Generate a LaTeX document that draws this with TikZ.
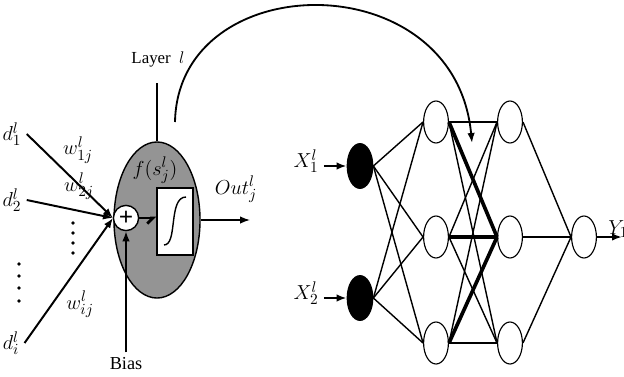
\documentclass[tikz,border=0pt]{standalone}
\usepackage{fontspec}
\setmainfont{Liberation Serif}
\usetikzlibrary{arrows.meta,shapes.geometric}

\begin{document}
\begin{tikzpicture}[x=0.025cm, y=-0.025cm, line width=1pt,
	every node/.style={font=\fontsize{15}{17}\selectfont}, >={Latex[length=2.5mm]},
	unit/.style={ellipse, draw, line width=0.8pt, fill=white, minimum width=0.62cm, minimum height=1.05cm, inner sep=0pt},
	inunit/.style={unit, fill=black, minimum width=0.64cm, minimum height=1.12cm},
	heavy/.style={line width=2.6pt}]
	\useasboundingbox (0,0) rectangle (624,376);
	% single neuron
	\node[ellipse, draw, line width=1pt, fill=black!42, minimum width=2.15cm, minimum height=3.9cm] (neuron) at (157,220) {};
	\node[circle, draw, fill=white, minimum size=0.63cm, inner sep=0pt, font=\fontsize{18}{18}\selectfont\bfseries] (plus) at (126,218) {+};
	\node[draw, fill=white, minimum width=0.9cm, minimum height=1.675cm, inner sep=0pt] (act) at (175,221.5) {};
	\draw (164,245) .. controls (178,245) and (168,197) .. (186,197);
	\draw[line width=2pt, -{Straight Barb[right, length=1.4mm]}] (plus.east) -- (plus.east -| act.west);
	\node (fs) at (155,170) {$f(s_j^l)$};
	\node (outlab) at (236,189) {$Out_j^l$};
	\coordinate (outend) at (250,220);
	\draw[->] (neuron.east) -- (outend);
	\node[font=\fontsize{12}{14}\selectfont] (layer) at (158,59) {Layer \ $l$};
	\draw[line width=1.2pt, shorten <=8pt] (layer.south -| neuron.north) -- (neuron.north);
	\node[font=\fontsize{13}{15}\selectfont] (bias) at (126,364) {Bias};
	\draw[->, line width=1.2pt] (bias.north) -- (plus.south);
	% inputs
	\coordinate (sum) at (113,218);
	\node (d1) at (12,134) {$d_1^l$};
	\node (d2) at (12,200) {$d_2^l$};
	\node (di) at (11,343) {$d_i^l$};
	\draw[->, line width=1.4pt] (d1.east) -- (sum);
	\draw[->, line width=1.4pt] (d2.east) -- (sum);
	\draw[->, line width=1.4pt] (di.east) -- (sum);
	\node (w1) at (78,150) {$w_{1j}^l$};
	\node (w2) at (79,186) {$w_{2j}^l$};
	\node (wi) at (80,304) {$w_{ij}^l$};
	\foreach \y in {223,233,243,253} \fill (73,\y) circle (1.9);
	\foreach \y in {264,276,288,301} \fill (19,\y) circle (1.9);
	% link to network
	\coordinate (arcstart) at (175,122);
	\coordinate (arcend) at (472,143);
	\draw[->, line width=1.3pt] (arcstart) .. controls (178,-34) and (455,-38) .. (arcend);
	% network
	\foreach \n/\y in {1/166,2/298} \node[inunit] (x\n) at (360,\y) {};
	\foreach \n/\y in {1/122,2/237,3/343} {
		\node[unit] (a\n) at (436,\y) {};
		\node[unit] (b\n) at (510,\y) {};
	}
	\node[unit] (y) at (584,237) {};
	\foreach \i in {1,2} \foreach \j in {1,2,3} \draw (x\i.east) -- (a\j.west);
	\foreach \i in {1,2,3} \foreach \j in {1,2,3} \draw (a\i.east) -- (b\j.west);
	\foreach \j in {1,2,3} \draw (b\j.east) -- (y.west);
	\draw[heavy] (a1.east) -- (b2.west) (a2.east) -- (b2.west) (a3.east) -- (b2.west);
	\draw[line width=1.6pt] (a1.east) -- (b1.west) (a3.east) -- (b3.west);
	\node (x1lab) at (306,161) {$X_1^l$};
	\node (x2lab) at (306,293) {$X_2^l$};
	\draw[->, line width=1.8pt] (x1lab.east |- x1) -- (x1.west);
	\draw[->, line width=1.8pt] (x2lab.east |- x2) -- (x2.west);
	\coordinate (yend) at (622,237);
	\draw[->, line width=1.8pt] (y.east) -- (yend);
	\node[anchor=west] (ylab) at (603,229) {$Y_1$};
\end{tikzpicture}
\end{document}
